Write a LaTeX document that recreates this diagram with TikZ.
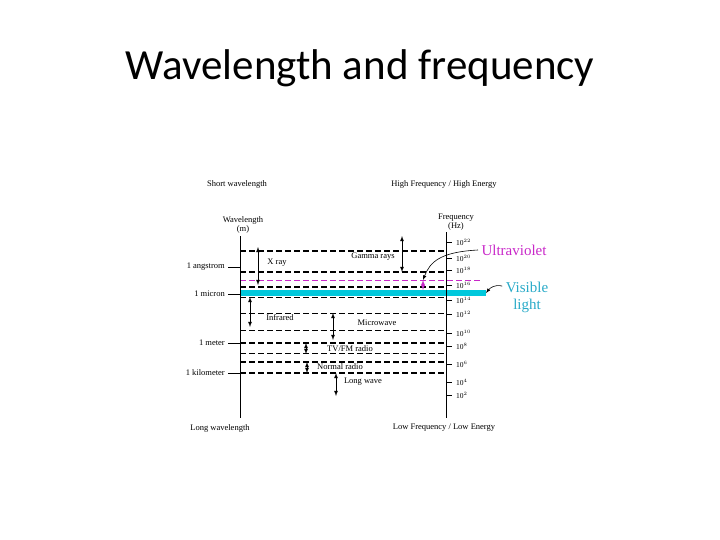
\documentclass[tikz,border=0pt]{standalone}
\usepackage{fontspec}
\setmainfont{Liberation Serif}
\newfontfamily\titlefont{Carlito}
\definecolor{uv}{RGB}{200,40,200}
\definecolor{vis}{RGB}{0,200,220}
\definecolor{vistext}{RGB}{40,170,200}
\begin{document}
\begin{tikzpicture}[x=1pt,y=-1pt,
  lbl/.style={font=\fontsize{8.5}{9.5}\selectfont,inner sep=1pt},
  thick dash/.style={line width=1.4pt,dash pattern=on 6pt off 3pt},
  thin dash/.style={line width=0.6pt,dash pattern=on 6pt off 3pt},
  rng/.style={<->,>=latex,line width=0.8pt}]
\useasboundingbox (0,0) rectangle (720,540);
\node[font=\titlefont\fontsize{43}{45}\selectfont] (title) at (360,68) {Wavelength and frequency};
\node[lbl] (sw) at (237,184) {Short wavelength};
\node[lbl] (hf) at (444,184) {High Frequency / High Energy};
\node[lbl,align=center] (wl) at (243,225) {Wavelength\\(m)};
\node[lbl,align=center] (fq) at (456,222) {Frequency\\(Hz)};
\node[lbl] (lw) at (220,428) {Long wavelength};
\node[lbl] (lf) at (444,428) {Low Frequency / Low Energy};
% band
\fill[vis] (240,290) rectangle (486,296);
\coordinate (bandend) at (486,293);
% dashed lines
\foreach \y in {251,272,287,343,362,373} \draw[thick dash] (240,\y) -- (446,\y);
\foreach \y in {297,313,330,353} \draw[thin dash] (240,\y) -- (446,\y);
\draw[thin dash,uv,line width=0.5pt] (240,280) -- (480,280);
% axes
\coordinate (la1) at (240,236); \coordinate (la2) at (240,418);
\coordinate (ra1) at (446,232); \coordinate (ra2) at (446,418);
\draw[line width=0.8pt] (la1) -- (la2);
\draw[line width=0.8pt] (ra1) -- (ra2);
% left ticks
\foreach \y/\t [count=\i] in {267/1 angstrom,294/1 micron,343/1 meter,373/1 kilometer}{
  \draw[line width=0.8pt] (228,\y) -- (240,\y);
  \node[lbl,anchor=east] (lt\i) at (226,\y) {\t};}
% right ticks
\foreach \y/\e [count=\i] in {242/22,258/20,270/18,285/16,300/14,314/12,333/10,346/8,364/6,382/4,395/2}{
  \draw[line width=0.6pt] (446,\y) -- (452,\y);
  \node[lbl,anchor=west,font=\fontsize{7.5}{8}\selectfont] (rt\i) at (455,\y) {10$^{\e}$};}
% range arrows
\draw[rng] (258,247) -- (258,285);
\node[lbl] (xr) at (277,263) {X ray};
\draw[rng] (402,236) -- (402,272);
\node[lbl] (gr) at (373,257) {Gamma rays};
\draw[rng] (250,297) -- (250,327);
\node[lbl] (ir) at (280,318) {Infrared};
\draw[rng] (333,313) -- (333,340);
\node[lbl] (mw) at (377,323) {Microwave};
\draw[rng] (306,343) -- (306,354);
\node[lbl] (tv) at (350,349) {TV/FM radio};
\draw[rng] (307,362) -- (307,373);
\node[lbl] (nr) at (340,367) {Normal radio};
\draw[rng] (336,373) -- (336,396);
\node[lbl] (lwv) at (363,382) {Long wave};
\draw[rng,uv] (423,280) -- (423,290);
% color labels
\node[font=\fontsize{15}{17}\selectfont,text=uv,anchor=west] (uvl) at (478,250) {Ultraviolet};
\node[font=\fontsize{15}{17}\selectfont,text=vistext,align=center] (vl) at (527,297) {Visible\\light};
\coordinate (uvtip) at (423,280);
\draw[->,>=latex,line width=0.6pt] (uvl.west) .. controls (440,252) and (430,262) .. (uvtip);
\draw[->,>=latex,line width=0.6pt] (vl.north west) ++(0,8) .. controls (495,284) and (490,288) .. (bandend);
\end{tikzpicture}
\end{document}
